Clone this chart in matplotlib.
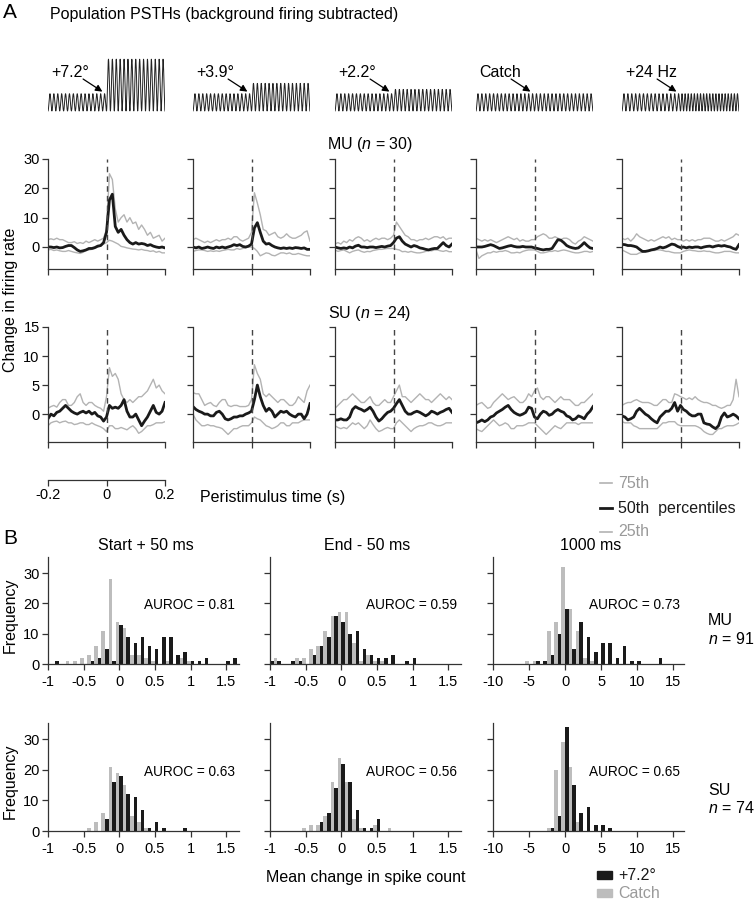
import matplotlib
matplotlib.use('Agg')
import matplotlib.pyplot as plt
import numpy as np

plt.rcParams['font.family'] = ['Liberation Sans', 'DejaVu Sans']
plt.rcParams['mathtext.fontset'] = 'custom'
plt.rcParams['mathtext.it'] = 'Liberation Sans:italic'
plt.rcParams['mathtext.rm'] = 'Liberation Sans'

W, H = 755, 905

# ---------------- panel A: stimulus schematics ----------------
conditions = ['+7.2°', '+3.9°', '+2.2°', 'Catch', '+24 Hz']
stim_amp_after = [3.0, 1.6, 1.25, 1.0, 1.0]
stim_cycles_before = [15, 15, 15, 15, 15]
stim_cycles_after = [15, 15, 15, 15, 19]

# ---------------- panel A: population PSTHs (10 ms bins, -0.2..0.2 s) ----------------
t = np.linspace(-0.2, 0.2, 41)

mu_72_p50 = [0, 0, -0.2, 0, -0.3, -0.2, 0.2, 0.5, 0.5, -0.2, -1.0, -1.5, -1.3, -1.0, -0.5, -0.5, -0.2, 0.3, 0.5, 1.5,
             5, 16, 18, 7, 5, 6, 4, 2.5, 1.5, 1.0, 1.5, 1.0, 1.2, 1.0, 0.5, 0.8, 0.3, 0, -0.2, 0, -0.3]
mu_72_p75 = [2.5, 2.8, 2.5, 3, 2.5, 2.5, 2, 1.5, 1.5, 1.8, 1.2, 1.5, 1.2, 2, 1.5, 2, 2.5, 2, 2.5, 3,
             6, 25, 23, 13, 8.5, 10, 11, 8.5, 10, 8, 8.5, 6, 7.5, 6, 4, 5, 3, 3.5, 4, 2, 3]
mu_72_p25 = [-1, -0.8, -1.2, -1, -1.3, -1.5, -1.5, -1.2, -1.5, -1.8, -2, -2.2, -1.8, -1.2, -1, -0.8, -0.5, 0, 0.3, 1,
             1.5, 2.3, 2, 1.5, 1, 0.2, 0, -0.3, -0.5, -0.7, -0.8, -1, -0.8, -1.1, -1.2, -1.5, -1.3, -1.8, -1.5, -2, -2]

mu_39_p50 = [0, -0.3, 0, -0.5, -0.3, 0, -0.3, -0.5, 0, -0.3, 0, -0.3, 0, 0.3, 0.8, 0.5, 0.8, 0.2, 0, 0.3,
             1, 6.5, 8.3, 5, 2, 1, 1.2, 0.5, 0, -0.3, -0.5, -0.3, -0.5, -0.3, -0.5, -0.2, -0.3, -0.5, -0.3, -0.8, -0.8]
mu_39_p75 = [2.5, 3, 2.5, 2, 1.5, 2, 1.5, 2, 2.5, 2, 2.5, 2.5, 3, 2.5, 3.5, 3.5, 2.5, 2, 2.5, 3,
             5, 18.5, 15, 11, 6, 5.5, 4, 4.5, 5, 3.5, 3, 3.5, 4.5, 3.5, 3, 3, 3.5, 4, 5, 5.5, 2]
mu_39_p25 = [-1.5, -1.2, -1, -1, -1.2, -1.5, -1.3, -1.5, -1.3, -1.5, -1.2, -1, -0.8, -1, -1, -0.5, -0.8, -0.5, -0.3, 0,
             0, -0.5, -1.5, -3, -2.5, -2, -2.2, -2.8, -3, -2.5, -2, -2, -2.3, -2, -2.5, -2.5, -2.2, -2.5, -2.8, -3, -3]

mu_22_p50 = [0, -0.3, -0.5, -0.3, -0.5, 0, -0.3, 0.3, 0.6, 0, 0, -0.2, 0, 0, -0.2, 0, 0.2, 0, 0.3, 0.5,
             1.5, 3, 3.5, 2, 1, 0.5, 0, 0.5, 0.2, -0.3, -0.5, -0.8, -1, -0.7, -0.5, -0.5, 0.5, 1.5, 0.5, 0, 1]
mu_22_p75 = [1, 1.5, 1, 2, 1.5, 2.5, 2, 3, 3.5, 3, 2, 2.5, 1.8, 2.5, 3, 2.5, 3, 3, 2.5, 3,
             4, 8.5, 7, 5.5, 4, 3.5, 2.5, 2.5, 2, 2.5, 2.5, 3, 2.5, 3, 3.5, 3.5, 3, 3.5, 2.5, 3, 3]
mu_22_p25 = [-1, -1.5, -1.2, -1, -1.5, -2, -1.5, -1.2, -1, -1.5, -1.8, -1.5, -1.6, -1.2, -1, -0.8, -0.8, -0.6, -0.5, -0.5,
             -0.5, -0.8, -1, -1.6, -1.5, -1.8, -1.5, -1.8, -2, -2, -1.8, -1.5, -1.2, -1.3, -1, -1, -1.3, -1.5, -1.2, -1.6, -1.6]

mu_catch_p50 = [0, 0, 0, 0.2, 0.5, 0.8, 0.5, 0, -0.5, -0.3, 0, 0.3, 0.5, 0.2, 0, 0, 0.2, 0, 0, 0,
                -0.3, -0.5, -0.8, -1, -0.8, -0.8, -0.5, 1, 2.5, 2.3, 1.5, 0.5, 0, -0.3, -0.5, -0.3, 0.5, 1.5, 0.5, -0.3, -0.5]
mu_catch_p75 = [3, 2.5, 2, 2.5, 2, 2.5, 2, 1.5, 2, 2.5, 3, 3.5, 3, 2.5, 3, 2, 2.5, 2, 2, 2.5,
                2.5, 3.5, 4, 4.5, 4, 3, 3, 3.5, 3, 2.5, 3, 3, 2.5, 1.5, 1, 2, 2.5, 3.5, 3, 2.5, 2]
mu_catch_p25 = [-1, -3.9, -3, -2.5, -2, -2, -1.5, -1.8, -1.5, -1.5, -1.2, -1.5, -2, -2, -1.8, -2, -1.5, -1.2, -1, -1,
                -1, -1.5, -2, -2, -1.8, -1.5, -1.5, -1.2, -1.5, -1.2, -1, -1.2, -1.5, -1.8, -2, -2, -1.8, -1.5, -1.5, -1.8, -1.5]

mu_24hz_p50 = [0.9, 0.8, 0.5, 0.5, 0.3, 0, -0.8, -1.5, -1.5, -1.3, -1, -0.8, -0.5, 0, -0.3, 0, 0.5, 1, 0.8, 0.2,
               -0.2, 0, -0.3, 0, -0.2, 0, 0, -0.3, 0, 0.2, 0.3, 0, 0.3, 0.5, 0.3, 0.5, 0.2, 0, -0.5, -0.8, 0.8]
mu_24hz_p75 = [3, 2.5, 3, 2, 3, 4.5, 3.5, 3, 2.5, 2, 2.5, 2, 2.5, 3, 3.5, 3, 3.5, 2.5, 3, 2.5,
               2.5, 2, 2.5, 2, 2.5, 2, 2.5, 2.5, 3, 3, 3, 2.5, 2, 2, 2.5, 2, 2.5, 3, 3.5, 4.5, 4]
mu_24hz_p25 = [-1, -1.5, -2, -2.5, -2.5, -2.5, -2, -1.8, -1.5, -1.5, -1.2, -1.2, -1, -1, -1.2, -1.5, -1.5, -1.8, -2, -2,
               -2, -1.5, -1.2, -1, -1.2, -1.3, -1.5, -1.5, -1.3, -1.5, -1.5, -1.8, -2, -2, -1.8, -1.5, -1.5, -1.5, -1.8, -2, -2]

su_72_p50 = [-0.8, 0, -0.3, 0.3, 0.5, 1, 1.5, 1, 0.5, 0.2, 0, 0.3, 0.5, 0.2, 0.5, 0, 0.3, -0.3, -0.5, -1.2,
             -0.5, 1.5, 1, 1.2, 1, 1.5, 2.5, 0.5, -0.5, -0.5, 0, -1, -2, -1.2, -0.5, 0.5, 1.5, 0.3, 0, 0.5, 2]
su_72_p75 = [1, 1.3, 1.5, 1.2, 2, 2.5, 2.5, 1.5, 1.5, 2, 3, 3.5, 2, 1.5, 2, 2, 1.5, 1.2, 1, 0.5,
             3, 8, 6.5, 7, 6, 3.5, 2.5, 2, 2.5, 2, 2.5, 3, 3, 3.5, 4, 5, 6, 4.5, 5, 4, 3.5]
su_72_p25 = [-2, -1.5, -1.3, -1.2, -1.5, -1.3, -1.2, -1.5, -1.5, -1.8, -1.7, -1.5, -1.5, -1.8, -1.8, -1.5, -1.8, -2, -2.2, -2.5,
             -3, -2, -2, -2.5, -2.5, -2.3, -2.5, -2.7, -2.3, -2, -2.5, -3.3, -3, -2.5, -2, -2, -1.8, -1.5, -1.5, -1.5, -1.3]

su_39_p50 = [1.3, 0.8, 0.5, 0.3, 0, 0, -0.3, -0.3, 0.3, 0.5, 0, -0.8, -1, -0.8, -0.5, -0.5, -0.3, -0.3, 0, 0.2,
             0.5, 2.5, 5, 3, 1.5, 0.5, 1, 0.5, -0.5, 0, 0.5, 0.3, 0.5, 0, -0.3, -0.5, 0, 0, -0.8, 0, 1.8]
su_39_p75 = [3.7, 3.5, 3.5, 2.5, 1.5, 1.8, 2, 1.5, 1.3, 2, 2.5, 2.5, 1.5, 1.3, 1.5, 1.5, 1.3, 1.3, 1.3, 1.5,
             2.5, 8.5, 7, 6, 3.5, 3, 3.5, 3, 2.5, 2, 2.5, 2.5, 2, 1.5, 1.5, 2, 3, 2.5, 2, 4, 5]
su_39_p25 = [0, -1, -1.5, -2, -2, -1.8, -2, -2, -2.2, -2.3, -2.5, -3, -3.5, -3, -2.5, -2.5, -2.2, -2, -2, -2,
             -1.5, -0.5, -0.8, -1, -1.5, -2, -2.2, -2.5, -2.3, -2, -1.5, -1.5, -2, -2, -1.5, -1.5, -1.5, -1.2, -1, -1, -1]

su_22_p50 = [-1, -1, -0.8, -1, -1, -0.5, 0.8, 1.3, 1, 0.8, 0.5, 0.8, 1.2, 0.5, -0.5, -1.2, -0.8, -0.2, 0.3, 0.5,
             1, 1.8, 2.5, 1.5, 0.5, 0, 0, 0.3, 0.5, 0.3, 0, -0.3, 0, 0.5, 0.3, 0, 0.3, 0.5, 0.8, 1, 0.3]
su_22_p75 = [1, 1.5, 2, 2.5, 2.5, 3, 3.5, 3, 2.5, 2, 2, 2.5, 3, 2, 1.5, 1.5, 2, 2.5, 2, 2,
             3, 4, 5, 3, 3, 2.5, 2, 2.5, 3, 3.5, 3, 2.5, 2.5, 2, 2.5, 3, 3.5, 3, 2.5, 3, 2.5]
su_22_p25 = [-2, -2.3, -2.5, -2.3, -2.5, -2, -1.5, -1.8, -1.5, -2, -2.5, -2, -1, -1.8, -2.5, -3, -2.8, -2.5, -2.3, -2.5,
             -2.5, -1.5, -1, -1.5, -2, -2.5, -3, -2.5, -2.2, -2, -2, -1.8, -1.5, -1.5, -1.8, -2, -2, -1.8, -1.5, -1.5, -1.5]

su_catch_p50 = [-1.5, -1.3, -1, -1.3, -1, -0.5, -0.3, 0.2, 0.5, 0.8, 1.2, 1.5, 0.8, 0.3, 0, -0.2, 0, 0.3, 1.2, 1,
                -0.5, -0.8, 0, 0.5, 0.3, -0.2, 0, 0.5, 0.8, 0.5, 0.3, -0.3, -0.5, -1, -0.8, -0.3, -0.5, -0.8, 0, 0.5, 1.3]
su_catch_p75 = [1.5, 1.8, 2, 1.5, 1, 1.2, 2, 2.5, 3, 3.5, 3, 2.5, 2.8, 3, 2.5, 2, 2, 2.5, 3.5, 3,
                4, 4.5, 3, 2.5, 3, 3, 2.5, 2, 2.5, 3, 2.5, 2.5, 2.5, 2, 1.5, 1.5, 2, 2, 2.5, 3, 3.5]
su_catch_p25 = [-2.5, -2.8, -3, -2.5, -2, -1.5, -1, -1.5, -2, -1.8, -1.5, -1.8, -2.5, -2.5, -2, -2, -2, -1.8, -1.5, -1.5,
                -1.5, -2, -2.5, -3, -3.5, -3, -2.5, -2, -2.3, -2.5, -2, -1.5, -1.5, -1.5, -1.5, -1.8, -1.5, -1.5, -1.5, -1.5, -1.5]

su_24hz_p50 = [-0.3, -0.5, -1, -0.8, -0.5, 0.5, 1, 0.5, 0, -0.3, -0.8, -1.2, -1.5, -0.5, 0, 0.5, 0.5, 1, 2, 0.5,
               1.5, 0.8, 0.5, 0, -0.3, -0.3, 0, 0, -1.5, -1.7, -1.8, -2.2, -2.5, -2, -0.5, 0.2, -0.5, -0.3, 0, -0.3, -0.8]
su_24hz_p75 = [1.5, 1.8, 2, 2, 2.3, 2.5, 2.2, 2, 2, 2, 1.8, 1.5, 1.5, 2, 2.5, 2.5, 2, 2, 3.5, 3.3,
               3, 2.8, 2.5, 2.8, 2.5, 3, 2.5, 2.2, 2, 2, 1.8, 1.5, 1.5, 1.2, 1, 1.2, 1.5, 1.5, 2.5, 6, 3]
su_24hz_p25 = [-1.3, -1.5, -1.5, -1.5, -2, -2.2, -2.5, -2.5, -2.5, -2.5, -2.5, -2.5, -2.5, -2, -1.5, -1.5, -1.3, -1.3, -1.3, -1.8,
               -2, -2, -2, -2, -2, -2, -2.2, -2.5, -3, -3.3, -3.5, -3.5, -3, -2.5, -2.5, -2.2, -2, -2, -2, -1.8, -1.5]

mu_p50 = [mu_72_p50, mu_39_p50, mu_22_p50, mu_catch_p50, mu_24hz_p50]
mu_p75 = [mu_72_p75, mu_39_p75, mu_22_p75, mu_catch_p75, mu_24hz_p75]
mu_p25 = [mu_72_p25, mu_39_p25, mu_22_p25, mu_catch_p25, mu_24hz_p25]
su_p50 = [su_72_p50, su_39_p50, su_22_p50, su_catch_p50, su_24hz_p50]
su_p75 = [su_72_p75, su_39_p75, su_22_p75, su_catch_p75, su_24hz_p75]
su_p25 = [su_72_p25, su_39_p25, su_22_p25, su_catch_p25, su_24hz_p25]

# ---------------- panel B: spike-count histograms ----------------
mu_start_bins = [-0.9, -0.8, -0.7, -0.6, -0.5, -0.4, -0.3, -0.2, -0.1, 0.0, 0.1, 0.2, 0.3, 0.4, 0.5, 0.6, 0.7,
                 0.8, 0.9, 1.0, 1.1, 1.2, 1.3, 1.4, 1.5, 1.6]
mu_start_stim = [1, 0, 0, 0, 0, 1, 2, 5, 1, 13, 9, 7, 9, 6, 5, 9, 9, 3, 4, 1, 1, 2, 0, 0, 1, 2]
mu_start_catch = [0, 0, 1, 1, 2, 3, 6, 11, 28, 14, 12, 3, 3, 2, 1, 0, 1, 0, 2, 1, 0, 0, 0, 0, 0, 0]

mu_end_bins = [-1.0, -0.9, -0.8, -0.7, -0.6, -0.5, -0.4, -0.3, -0.2, -0.1, 0.0, 0.1, 0.2, 0.3, 0.4, 0.5, 0.6,
               0.7, 0.8, 0.9, 1.0]
mu_end_stim = [1, 1, 0, 1, 1, 0, 3, 6, 9, 16, 14, 10, 11, 5, 3, 2, 2, 3, 0, 1, 2]
mu_end_catch = [0, 2, 0, 0, 2, 2, 5, 6, 11, 16, 17, 17, 7, 1, 3, 1, 1, 0, 0, 0, 0]

mu_1000_bins = [-5, -4, -3, -2, -1, 0, 1, 2, 3, 4, 5, 6, 7, 8, 9, 10, 11, 12, 13]
mu_1000_stim = [0, 1, 1, 3, 10, 18, 5, 14, 9, 4, 7, 7, 2, 6, 1, 1, 0, 0, 2]
mu_1000_catch = [1, 1, 0, 11, 14, 32, 18, 11, 2, 1, 0, 0, 0, 0, 0, 0, 0, 0, 0]

su_start_bins = [-0.4, -0.3, -0.2, -0.1, 0.0, 0.1, 0.2, 0.3, 0.4, 0.5, 0.6, 0.7, 0.8, 0.9]
su_start_stim = [0, 0, 4, 16, 18, 12, 11, 7, 1, 3, 1, 0, 0, 1]
su_start_catch = [1, 3, 6, 21, 19, 15, 5, 3, 1, 0, 0, 0, 0, 0]

su_end_bins = [-0.5, -0.4, -0.3, -0.2, -0.1, 0.0, 0.1, 0.2, 0.3, 0.4, 0.5, 0.6, 0.7]
su_end_stim = [0, 0, 3, 6, 14, 22, 16, 7, 1, 1, 4, 0, 0]
su_end_catch = [1, 2, 2, 5, 16, 24, 16, 4, 1, 0, 2, 0, 1]

su_1000_bins = [-2, -1, 0, 1, 2, 3, 4, 5, 6]
su_1000_stim = [1, 5, 34, 15, 6, 8, 2, 2, 1]
su_1000_catch = [1, 20, 29, 21, 3, 0, 0, 0, 0]

window_titles = ['Start + 50 ms', 'End - 50 ms', '1000 ms']
mu_auroc = ['0.81', '0.59', '0.73']
su_auroc = ['0.63', '0.56', '0.65']

# ---------------- styling ----------------
BLACK = '#1a1a1a'
GREY_LINE = '#b3b3b3'
GREY_BAR = '#bdbdbd'
GREY_TEXT = '#9a9a9a'
FS = 11.5
TFS = 10.5

fig = plt.figure(figsize=(W / 100, H / 100), dpi=100)


def px_axes(x0, y0, x1, y1):
    return fig.add_axes([x0 / W, 1 - y1 / H, (x1 - x0) / W, (y1 - y0) / H])


def ftext(x, y, s, **kw):
    return fig.text(x / W, 1 - y / H, s, **kw)


def style_axes(ax):
    for side in ['top', 'right']:
        ax.spines[side].set_visible(False)
    for side in ['left', 'bottom']:
        ax.spines[side].set_color('#333333')
        ax.spines[side].set_linewidth(0.9)
    ax.tick_params(direction='out', length=4, width=0.9, color='#333333', labelsize=TFS, pad=2)


# titles
ftext(3, 13, 'A', fontsize=15, va='center', ha='left')
ftext(50, 14, 'Population PSTHs (background firing subtracted)', fontsize=FS, va='center', ha='left')

panel_lefts = [48, 193, 335, 476, 622]
panel_w = 117

# stimulus schematics
for i, lab in enumerate(conditions):
    ax = px_axes(panel_lefts[i], 54, panel_lefts[i] + panel_w, 112)
    ax.axis('off')
    x1 = np.linspace(0, 0.5, 600)
    x2 = np.linspace(0.5, 1.0, 600)
    y1 = (1 - np.cos(2 * np.pi * stim_cycles_before[i] * x1 / 0.5)) / 2
    y2 = stim_amp_after[i] * (1 - np.cos(2 * np.pi * stim_cycles_after[i] * (x2 - 0.5) / 0.5)) / 2
    ax.plot(np.concatenate([x1, x2]), np.concatenate([y1, y2]), color='#222222', lw=0.7)
    ax.set_xlim(0, 1)
    ax.set_ylim(-0.06, 3.3)
    ax.text(0.03, 2.25, lab, fontsize=FS, va='center', ha='left')
    ax.annotate('', xy=(0.465, 1.12), xytext=(0.30, 1.85),
                arrowprops=dict(arrowstyle='-|>', color='k', lw=0.9, mutation_scale=10,
                                shrinkA=0, shrinkB=0), annotation_clip=False)


def psth_row(top, bottom, ylim, yticks, p75s, p50s, p25s):
    for i in range(5):
        ax = px_axes(panel_lefts[i], top, panel_lefts[i] + panel_w, bottom)
        style_axes(ax)
        ax.plot(t, p75s[i], color=GREY_LINE, lw=1.0)
        ax.plot(t, p25s[i], color=GREY_LINE, lw=1.0)
        ax.plot(t, p50s[i], color=BLACK, lw=2.0)
        ax.axvline(0, color='#444444', lw=1.0, ls=(0, (4, 3)))
        ax.set_xlim(-0.2, 0.2)
        ax.set_ylim(*ylim)
        ax.set_xticks([-0.2, 0, 0.2])
        ax.set_xticklabels([])
        ax.set_yticks(yticks)
        if i == 0:
            ax.set_yticklabels([str(v) for v in yticks])
        else:
            ax.set_yticklabels([])
        ax.spines['left'].set_bounds(ylim[0], yticks[-1])


ftext(370, 144, r'MU ($n$ = 30)', fontsize=FS, ha='center', va='center')
psth_row(159, 269, (-7.5, 30), [0, 10, 20, 30], mu_p75, mu_p50, mu_p25)
ftext(370, 313, r'SU ($n$ = 24)', fontsize=FS, ha='center', va='center')
psth_row(327, 442, (-4.8, 15), [0, 5, 10, 15], su_p75, su_p50, su_p25)

ftext(11, 300, 'Change in firing rate', fontsize=FS, rotation=90, ha='center', va='center')

# time scale bar
sax = px_axes(48, 470, 48 + panel_w, 480)
style_axes(sax)
sax.spines['left'].set_visible(False)
sax.set_yticks([])
sax.set_xlim(-0.2, 0.2)
sax.set_xticks([-0.2, 0, 0.2])
sax.set_xticklabels(['-0.2', '0', '0.2'])
sax.patch.set_visible(False)
ftext(200, 497, 'Peristimulus time (s)', fontsize=FS, ha='left', va='center')

# percentile legend
for yy, col, lw, txt, tcol in [(483, GREY_LINE, 1.2, '75th', GREY_TEXT),
                                (508, BLACK, 2.0, '50th  percentiles', BLACK),
                                (532, GREY_LINE, 1.2, '25th', GREY_TEXT)]:
    fig.add_artist(plt.Line2D([600 / W, 612 / W], [1 - yy / H, 1 - yy / H], color=col, lw=lw))
    ftext(618, yy, txt, fontsize=FS, color=tcol, ha='left', va='center')

# ---------------- panel B ----------------
ftext(3, 539, 'B', fontsize=15, ha='left', va='center')

hist_lefts = [48, 270, 493]
hist_w = 191
hist_xlims = [(-1, 1.68), (-1, 1.68), (-10, 16.5)]
hist_bw = [0.1, 0.1, 1.0]
hist_xticks = [[-1, -0.5, 0, 0.5, 1, 1.5], [-1, -0.5, 0, 0.5, 1, 1.5], [-10, -5, 0, 5, 10, 15]]
hist_xticklabels = [['-1', '-0.5', '0', '0.5', '1', '1.5'], ['-1', '-0.5', '0', '0.5', '1', '1.5'],
                    ['-10', '-5', '0', '5', '10', '15']]

mu_hists = [(mu_start_bins, mu_start_stim, mu_start_catch),
            (mu_end_bins, mu_end_stim, mu_end_catch),
            (mu_1000_bins, mu_1000_stim, mu_1000_catch)]
su_hists = [(su_start_bins, su_start_stim, su_start_catch),
            (su_end_bins, su_end_stim, su_end_catch),
            (su_1000_bins, su_1000_stim, su_1000_catch)]


def hist_row(top, bottom, hists, aurocs):
    for j in range(3):
        ax = px_axes(hist_lefts[j], top, hist_lefts[j] + hist_w, bottom)
        style_axes(ax)
        bins, stim, catch = hists[j]
        bw = hist_bw[j]
        bins = np.array(bins, dtype=float)
        ax.bar(bins - bw / 4, catch, width=bw / 2, color=GREY_BAR, linewidth=0)
        ax.bar(bins + bw / 4, stim, width=bw / 2, color=BLACK, linewidth=0)
        ax.set_xlim(*hist_xlims[j])
        ax.set_ylim(0, 35.3)
        ax.set_xticks(hist_xticks[j])
        ax.set_xticklabels(hist_xticklabels[j])
        ax.set_yticks([0, 10, 20, 30])
        if j == 0:
            ax.set_yticklabels(['0', '10', '20', '30'])
        else:
            ax.set_yticklabels([])
        ax.tick_params(axis='x', pad=4)
        ax.text(0.98, 0.55, 'AUROC = ' + aurocs[j], transform=ax.transAxes, fontsize=9.8,
                ha='right', va='center')


for j in range(3):
    ftext(hist_lefts[j] + hist_w / 2 + 2, 545, window_titles[j], fontsize=FS, ha='center', va='center')

hist_row(557, 664, mu_hists, mu_auroc)
hist_row(723, 831, su_hists, su_auroc)

ftext(10, 615, 'Frequency', fontsize=FS, rotation=90, ha='center', va='center')
ftext(10, 781, 'Frequency', fontsize=FS, rotation=90, ha='center', va='center')

ftext(708, 620, 'MU', fontsize=FS, ha='left', va='center')
ftext(708, 639, r'$n$ = 91', fontsize=FS, ha='left', va='center')
ftext(708, 790, 'SU', fontsize=FS, ha='left', va='center')
ftext(708, 808, r'$n$ = 74', fontsize=FS, ha='left', va='center')

ftext(366, 877, 'Mean change in spike count', fontsize=FS, ha='center', va='center')

# bar legend
for yy, col, txt, tcol in [(875, BLACK, '+7.2°', BLACK), (893, GREY_BAR, 'Catch', GREY_TEXT)]:
    fig.add_artist(plt.Rectangle((597 / W, 1 - (yy + 4) / H), 15 / W, 8 / H, color=col,
                                 transform=fig.transFigure))
    ftext(618, yy, txt, fontsize=FS, color=tcol, ha='left', va='center')

fig.savefig('out.png', dpi=100)
